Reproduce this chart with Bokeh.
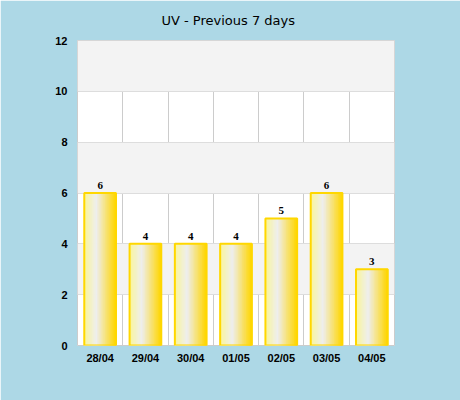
from bokeh.plotting import figure
from bokeh.models import FixedTicker, Range1d, ColumnDataSource, LabelSet
from bokeh.embed import file_html
from bokeh.resources import INLINE

# ---- data ----
title_text = "UV - Previous 7 days"
days = ["28/04", "29/04", "30/04", "01/05", "02/05", "03/05", "04/05"]
uv = [6, 4, 4, 4, 5, 6, 3]
y_ticks = [0, 2, 4, 6, 8, 10, 12]

BG = "#add8e6"
BAR_W = 0.7
N_STRIPES = 24

# gradient stops (position, rgb)
stops = [(0.0, (250, 246, 150)), (0.4, (238, 238, 238)), (1.0, (255, 214, 0))]


def grad(t):
    for (p0, c0), (p1, c1) in zip(stops[:-1], stops[1:]):
        if p0 <= t <= p1:
            f = (t - p0) / (p1 - p0)
            r, g, b = (round(a + (b_ - a) * f) for a, b_ in zip(c0, c1))
            return "#%02x%02x%02x" % (r, g, b)
    return "#%02x%02x%02x" % stops[-1][1]


p = figure(width=460, height=400, output_backend="svg", toolbar_location=None,
           x_range=Range1d(0, len(days)), y_range=Range1d(0, 12),
           min_border_left=77, min_border_right=66, min_border_top=40, min_border_bottom=55)

p.background_fill_color = "white"
p.border_fill_color = BG
p.outline_line_color = "#cccccc"
p.outline_line_width = 1

p.title.text = title_text
p.title.text_font = "DejaVu Sans"
p.title.text_font_size = "13px"
p.title.text_font_style = "normal"
p.title.text_color = "#000000"
p.title.align = "left"
p.title.offset = 84
p.title.standoff = 21
p.title.vertical_align = "top"

xs = [i + 0.5 for i in range(len(days))]

# gradient stripes
sw = BAR_W / N_STRIPES
for k in range(N_STRIPES):
    t = (k + 0.5) / N_STRIPES
    c = grad(t)
    p.vbar(x=[x - BAR_W / 2 + (k + 0.5) * sw for x in xs], top=uv, bottom=0,
           width=sw, fill_color=c, line_color=c, line_width=1)

# outline
p.vbar(x=xs, top=uv, bottom=0, width=BAR_W, fill_color=None,
       line_color="#ffd700", line_width=2)

src = ColumnDataSource(dict(x=xs, y=uv, t=[str(v) for v in uv]))
labels = LabelSet(x="x", y="y", text="t", source=src, text_align="center",
                  text_baseline="bottom", y_offset=4, text_font="Liberation Sans",
                  text_font_size="11px", text_font_style="bold", text_color="black")
p.add_layout(labels)

# axes
p.xaxis.ticker = FixedTicker(ticks=xs)
p.xaxis.major_label_overrides = {x: d for x, d in zip(xs, days)}
p.yaxis.ticker = FixedTicker(ticks=y_ticks)
for ax in (p.xaxis[0], p.yaxis[0]):
    ax.axis_line_color = None
    ax.major_tick_line_color = None
    ax.minor_tick_line_color = None
    ax.major_tick_out = 0
    ax.major_tick_in = 0
    ax.major_label_text_font = "Liberation Sans"
    ax.major_label_text_font_size = "11px"
    ax.major_label_text_font_style = "bold"
    ax.major_label_text_color = "black"
p.xaxis.major_label_standoff = 6
p.yaxis.major_label_standoff = 10

# grids
p.xgrid.ticker = FixedTicker(ticks=list(range(1, len(days))))
p.xgrid.grid_line_color = "#cccccc"
p.ygrid.ticker = FixedTicker(ticks=y_ticks)
p.ygrid.grid_line_color = "#dddddd"
p.ygrid.band_fill_color = "#f3f3f3"
p.ygrid.band_fill_alpha = 1.0

open("out.html", "w").write(file_html(p, INLINE))
